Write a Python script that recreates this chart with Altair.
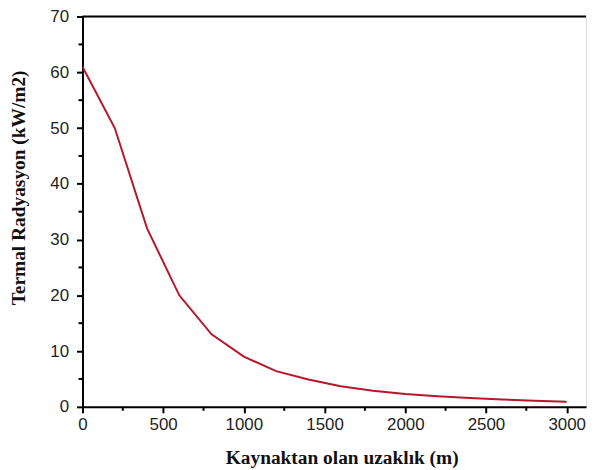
import altair as alt
import pandas as pd

distance_m = [0, 200, 400, 600, 800, 1000, 1200, 1400, 1600, 1800, 2000, 2200, 2400, 2600, 2800, 3000]
radiation_kw_m2 = [61, 50, 32, 20, 13, 9, 6.4, 4.9, 3.7, 2.9, 2.3, 1.9, 1.6, 1.3, 1.1, 0.9]
x_ticks = [0, 500, 1000, 1500, 2000, 2500, 3000]
y_ticks = [0, 10, 20, 30, 40, 50, 60, 70]
x_minor = [250, 750, 1250, 1750, 2250, 2750]
y_minor = [5, 15, 25, 35, 45, 55, 65]

df = pd.DataFrame({"x": distance_m, "y": radiation_kw_m2})

XDOM = [0, 3120]
YDOM = [0, 70]

x_enc = alt.X("x:Q", scale=alt.Scale(domain=XDOM, nice=False, zero=False),
              axis=alt.Axis(values=x_ticks, format="d", title="Kaynaktan olan uzaklık (m)",
                            grid=False, domain=True, domainColor="black", domainWidth=2,
                            tickColor="black", tickWidth=2, tickSize=6,
                            labelFont="Liberation Sans", labelFontSize=17, labelColor="#222",
                            labelPadding=4, labelFlush=False,
                            titleFont="Liberation Serif", titleFontWeight="bold",
                            titleFontSize=19.5, titleColor="#111",
                            titleX=261, titleY=57, titleBaseline="alphabetic",
                            titleAnchor="middle"))
y_enc = alt.Y("y:Q", scale=alt.Scale(domain=YDOM, nice=False),
              axis=alt.Axis(values=y_ticks, format="d", title="Termal Radyasyon (kW/m2)",
                            grid=False, domain=True, domainColor="black", domainWidth=2,
                            tickColor="black", tickWidth=2, tickSize=6,
                            labelFont="Liberation Sans", labelFontSize=17, labelColor="#222",
                            labelPadding=8, labelFlush=False,
                            titleFont="Liberation Serif", titleFontWeight="bold",
                            titleFontSize=19.5, titleColor="#111",
                            titleX=-64, titleY=172, titleBaseline="middle",
                            titleAnchor="middle"))

line = alt.Chart(df).mark_line(color="#B8162A", strokeWidth=2, clip=True).encode(x=x_enc, y=y_enc)

top = alt.Chart(pd.DataFrame({"y": [70]})).mark_rule(color="black", strokeWidth=2).encode(
    y=alt.Y("y:Q", scale=alt.Scale(domain=YDOM, nice=False)))

xm = alt.Chart(pd.DataFrame({"x": x_minor})).mark_rule(color="black", strokeWidth=2).encode(
    x=alt.X("x:Q", scale=alt.Scale(domain=XDOM, nice=False)),
    y=alt.value(393), y2=alt.value(397))
ym = alt.Chart(pd.DataFrame({"y": y_minor})).mark_rule(color="black", strokeWidth=2).encode(
    y=alt.Y("y:Q", scale=alt.Scale(domain=YDOM, nice=False)),
    x=alt.value(-4), x2=alt.value(0))

chart = alt.layer(line, top, xm, ym).properties(
    width=507, height=393,
    autosize=alt.AutoSizeParams(type="none"),
    padding={"left": 75, "top": 7, "right": 2, "bottom": 60},
).configure_view(stroke=None).configure(background="white")

chart.save("out.html", embed_options={"renderer": "svg", "actions": False})
